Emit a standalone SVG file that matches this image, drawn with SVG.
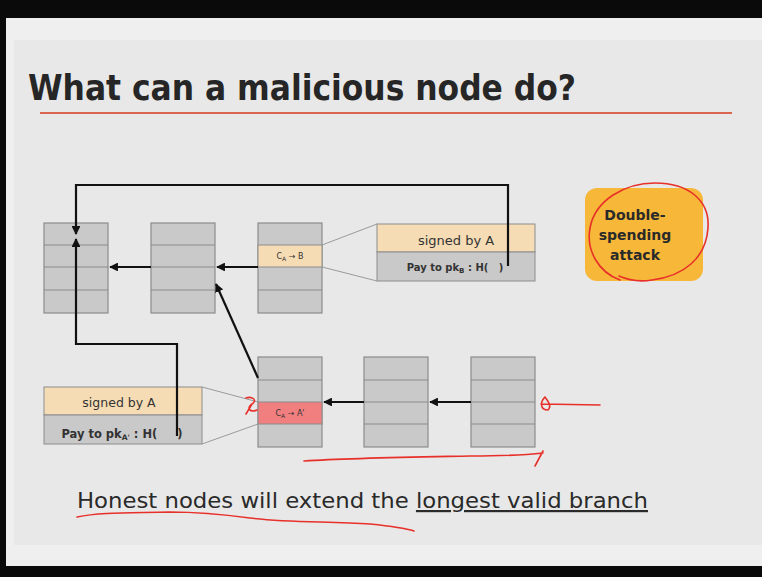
<svg xmlns="http://www.w3.org/2000/svg" width="762" height="577" viewBox="0 0 762 577">
<defs>
<style>
.blk{fill:#c9c9c9;stroke:#8c8c8c;stroke-width:1.2}
.row{stroke:#8c8c8c;stroke-width:1.2}
.tan{fill:#f6dcb4;stroke:#8c8c8c;stroke-width:1}
.gry{fill:#c9c9c9;stroke:#8c8c8c;stroke-width:1}
.red{fill:#f17f7f;stroke:#8c8c8c;stroke-width:1}
.con{fill:none;stroke:#111;stroke-width:2.2}
.thin{fill:none;stroke:#9a9a9a;stroke-width:1}
.ink{fill:none;stroke:#e8302a;stroke-width:1.6;stroke-linecap:round;stroke-linejoin:round}
.t{font-family:"DejaVu Sans","Liberation Sans",sans-serif;fill:#333}
</style>
<marker id="ah" viewBox="0 0 10 10" refX="9" refY="5" markerWidth="4" markerHeight="4" orient="auto-start-reverse">
<path d="M0,0 L10,5 L0,10 z" fill="#111"/>
</marker>
</defs>
<rect x="0" y="0" width="762" height="577" fill="#f0eff0"/>
<rect x="14" y="40" width="748" height="505" fill="#e8e8e8"/>
<rect x="0" y="0" width="762" height="18" fill="#0a0a0a"/>
<rect x="0" y="0" width="6" height="577" fill="#0a0a0a"/>
<rect x="0" y="566" width="762" height="11" fill="#0a0a0a"/>

<text class="t" x="28" y="100" font-size="35" font-weight="bold" style="fill:#262626" textLength="548" lengthAdjust="spacingAndGlyphs">What can a malicious node do?</text>
<line x1="40" y1="113" x2="732" y2="113" stroke="#d9664f" stroke-width="2"/>

<g id="block1"><rect class="blk" x="44" y="223" width="64" height="90"/><line class="row" x1="44" y1="245" x2="108" y2="245"/><line class="row" x1="44" y1="267" x2="108" y2="267"/><line class="row" x1="44" y1="290" x2="108" y2="290"/></g>
<g id="block2"><rect class="blk" x="151" y="223" width="64" height="90"/><line class="row" x1="151" y1="245" x2="215" y2="245"/><line class="row" x1="151" y1="267" x2="215" y2="267"/><line class="row" x1="151" y1="290" x2="215" y2="290"/></g>
<g id="block3"><rect class="blk" x="258" y="223" width="64" height="90"/><rect class="tan" x="258" y="245" width="64" height="22"/><line class="row" x1="258" y1="290" x2="322" y2="290"/>
<text class="t" x="290" y="259" font-size="8" text-anchor="middle">C<tspan font-size="6" dy="2">A</tspan><tspan dy="-2"> → B</tspan></text></g>
<g id="txB"><rect class="tan" x="377" y="224" width="158" height="28"/><rect class="gry" x="377" y="252" width="158" height="29"/>
<text class="t" x="456" y="245" font-size="13" text-anchor="middle">signed by A</text>
<text class="t" x="455" y="271" font-size="10" font-weight="bold" text-anchor="middle">Pay to pk<tspan font-size="7" dy="2">B</tspan><tspan dy="-2"> : H(&#160;&#160;&#160;)</tspan></text></g>

<g id="block4"><rect class="blk" x="258" y="357" width="64" height="90"/><line class="row" x1="258" y1="380" x2="322" y2="380"/><rect class="red" x="258" y="402" width="64" height="22"/>
<text class="t" x="290" y="416" font-size="8" text-anchor="middle">C<tspan font-size="6" dy="2">A</tspan><tspan dy="-2"> → A'</tspan></text></g>
<g id="block5"><rect class="blk" x="364" y="357" width="64" height="90"/><line class="row" x1="364" y1="380" x2="428" y2="380"/><line class="row" x1="364" y1="402" x2="428" y2="402"/><line class="row" x1="364" y1="424" x2="428" y2="424"/></g>
<g id="block6"><rect class="blk" x="471" y="357" width="64" height="90"/><line class="row" x1="471" y1="380" x2="535" y2="380"/><line class="row" x1="471" y1="402" x2="535" y2="402"/><line class="row" x1="471" y1="424" x2="535" y2="424"/></g>
<g id="txA"><rect class="tan" x="44" y="387" width="158" height="28"/><rect class="gry" x="44" y="415" width="158" height="29"/>
<text class="t" x="119" y="407" font-size="12.5" text-anchor="middle">signed by A</text>
<text class="t" x="122" y="438" font-size="11.5" font-weight="bold" text-anchor="middle">Pay to pk<tspan font-size="7.5" dy="2">A'</tspan><tspan dy="-2"> : H(&#160;&#160;&#160;&#160;&#160;)</tspan></text></g>

<g id="dsa"><rect x="585" y="188" width="118" height="93" rx="12" fill="#f7b739"/>
<text class="t" font-size="14" font-weight="bold" text-anchor="middle" style="fill:#2a2a2a"><tspan x="635" y="220">Double-</tspan><tspan x="635" y="240">spending</tspan><tspan x="635" y="260">attack</tspan></text></g>

<g id="connectors">
<line class="con" x1="151" y1="267" x2="110" y2="267" marker-end="url(#ah)"/>
<line class="con" x1="258" y1="267" x2="217" y2="267" marker-end="url(#ah)"/>
<line class="con" x1="364" y1="402" x2="324" y2="402" marker-end="url(#ah)"/>
<line class="con" x1="471" y1="402" x2="430" y2="402" marker-end="url(#ah)"/>
<line class="con" x1="258" y1="378" x2="216" y2="284" marker-end="url(#ah)"/>
<path class="con" d="M508,266 V185 H76 V234" marker-end="url(#ah)"/>
<path class="con" d="M177,436 V344 H76 V239" marker-end="url(#ah)"/>
<line class="thin" x1="322" y1="245" x2="377" y2="224"/>
<line class="thin" x1="322" y1="267" x2="377" y2="281"/>
<line class="thin" x1="258" y1="402" x2="202" y2="387"/>
<line class="thin" x1="258" y1="424" x2="202" y2="444"/>
</g>

<text class="t" x="77" y="508" font-size="22" style="fill:#2a2a2a" textLength="571" lengthAdjust="spacingAndGlyphs">Honest nodes will extend the <tspan text-decoration="underline">longest valid branch</tspan></text>

<g id="ink">
<path class="ink" d="M620,280 C598,272 586,250 590,228 C595,200 625,183 655,183 C688,183 710,200 708,228 C706,258 684,276 652,280 C640,282 628,280 619,276"/>
<path class="ink" d="M304,461 C350,458 420,457 470,456 C500,456 525,455 543,453 M543,451 L535,466"/>
<path class="ink" d="M77,517 C100,512 130,513 170,512 C200,512 220,514 250,518 C290,523 330,521 370,524 C390,526 405,528 414,531"/>
<path class="ink" d="M246,398 C252,396 258,400 252,404 C246,408 250,413 257,410 M252,404 L246,414"/>
<path class="ink" d="M545,397 C540,402 540,410 548,410 C552,406 548,401 545,397 M541,404 L600,405"/>
</g>
</svg>
